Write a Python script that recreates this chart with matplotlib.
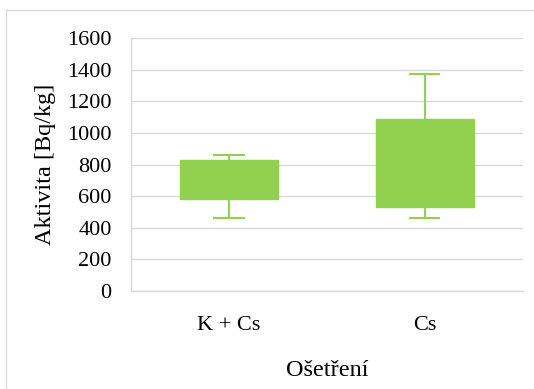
import matplotlib
matplotlib.use("Agg")
import matplotlib.pyplot as plt
from matplotlib.lines import Line2D

# data
categories = ["K + Cs", "Cs"]
whisker_low = [464, 464]
q1 = [580, 530]
q3 = [830, 1090]
whisker_high = [858, 1371]

green = "#92D050"
grid_col = "#D9D9D9"

plt.rcParams['font.family'] = ['Liberation Serif', 'DejaVu Serif']

fig = plt.figure(figsize=(5.34, 3.89), dpi=100)
ax = fig.add_axes([0.2453, 0.2519, 0.7335, 0.6504])

stats = []
for i in range(len(categories)):
    stats.append({
        "label": categories[i],
        "whislo": whisker_low[i],
        "q1": q1[i],
        "med": q1[i],
        "q3": q3[i],
        "whishi": whisker_high[i],
    })

ax.bxp(stats, positions=[0.5, 1.5], widths=0.5, showfliers=False,
       patch_artist=True,
       boxprops=dict(facecolor=green, edgecolor=green, linewidth=1),
       whiskerprops=dict(color=green, linewidth=1.5),
       capprops=dict(color=green, linewidth=1.5),
       medianprops=dict(linewidth=0),
       capwidths=0.15)

ax.set_xlim(0, 2)
ax.set_ylim(0, 1600)
ax.set_yticks(range(0, 1601, 200))
ax.set_xticks([0.5, 1.5])
ax.set_xticklabels(categories)
ax.yaxis.grid(True, color=grid_col, linewidth=1)
ax.set_axisbelow(True)
for s in ["top", "right"]:
    ax.spines[s].set_visible(False)
for s in ["left", "bottom"]:
    ax.spines[s].set_color(grid_col)
    ax.spines[s].set_linewidth(1)
ax.tick_params(length=0, labelsize=16, colors="black")
ax.tick_params(axis="y", pad=14)
ax.tick_params(axis="x", pad=18)

ax.set_ylabel("Aktivita [Bq/kg]", fontsize=17.5, labelpad=8)
ax.set_xlabel("Ošetření", fontsize=17.5, labelpad=18)

# chart area border
fig.add_artist(Line2D([6/534, 1], [1 - 10/389, 1 - 10/389], color=grid_col, linewidth=1))
fig.add_artist(Line2D([6/534, 6/534], [0, 1 - 10/389], color=grid_col, linewidth=1))

fig.savefig("out.png", dpi=100)
